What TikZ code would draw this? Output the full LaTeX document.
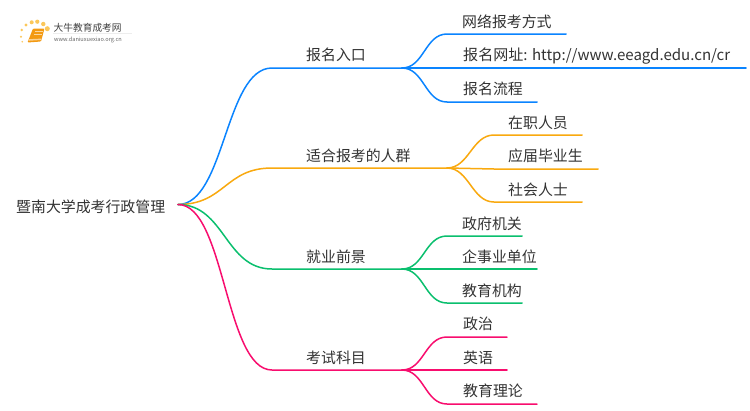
\documentclass[tikz,border=0pt]{standalone}
\usepackage{fontspec}
\setmainfont{Noto Sans CJK SC}
\definecolor{cblue}{HTML}{0A84FF}
\definecolor{corange}{HTML}{F9A90F}
\definecolor{cgreen}{HTML}{0ABF6E}
\definecolor{cpink}{HTML}{F80D6E}
\definecolor{ctext}{HTML}{333333}
\definecolor{cbook}{HTML}{F39A12}
\definecolor{cdot}{HTML}{FBC75A}
\tikzset{
 link/.style={line width=1.5pt,line cap=round},
 lab/.style={font=\fontsize{14.9}{15}\selectfont,text=ctext,anchor=base west,inner sep=0pt},
 urllab/.style={lab,font=\fontsize{15.05}{15}\selectfont},
}
\begin{document}
\begin{tikzpicture}[x=1pt,y=-1pt]
\useasboundingbox (0,0) rectangle (750,410);
\fill[white] (0,0) rectangle (750,410);
% logo
\foreach \x/\y/\s in {22.3/41.7/0.9,21/36.7/1.1,21.7/30/1.4,26/25/1.7,31.7/22.3/2,37.3/21.7/2.1,43.3/24/2.2,47.3/28.7/2.5}
  \fill[cdot] (\x,\y) circle (\s);
\fill[cbook,rounded corners=1pt] (33,28.5) -- (44.5,28.5) -- (41,41.5) -- (27.5,42.5) -- cycle;
\draw[white!60!cbook,line width=0.6pt] (35,31.5) -- (42.5,31.5) (34.3,34) -- (41.8,34);
\fill[white!55!cbook] (29,39.2) -- (41.4,38.6) -- (41,40) -- (28.5,40.8) -- cycle;
\node[font=\fontsize{9.7}{10}\selectfont,text=black!75,anchor=base west,inner sep=0pt] (logotext) at (53.5,31) {大牛教育成考网};
\node[font=\fontsize{5.6}{6}\selectfont,text=black!60,anchor=base west,inner sep=0pt] (logourl) at (54,41) {www.daniuxuexiao.org.cn};
\fill[black!7] (53,33.2) rectangle (132,33.7);
% root
\node[lab] (root) at (16,212) {暨南大学成考行政管理};
\coordinate (r) at (178,204.5);
% main branches
\coordinate (a0) at (272,68);  \coordinate (a1) at (402,68);
\coordinate (b0) at (272,168); \coordinate (b1) at (447,168);
\coordinate (c0) at (272,269); \coordinate (c1) at (402,269);
\coordinate (d0) at (272,370); \coordinate (d1) at (402,370);
\foreach \col/\p/\q in {cblue/a0/a1,corange/b0/b1,cgreen/c0/c1,cpink/d0/d1}{
 \draw[link,\col] (r) .. controls +(47,0) and +(-47,0) .. (\p) -- (\q);
}
\draw[link,cpink] (r) -- +(4,0);
% blue
\coordinate (a1e) at (566,34); \coordinate (a2e) at (746,68); \coordinate (a3e) at (537,102);
\draw[link,cblue] (a1) .. controls +(22,0) and +(-22,0) .. (447,34) -- (a1e);
\draw[link,cblue] (a1) -- (a2e);
\draw[link,cblue] (a1) .. controls +(22,0) and +(-22,0) .. (447,102) -- (a3e);
% orange
\coordinate (b1e) at (582,135); \coordinate (b2e) at (598,169); \coordinate (b3e) at (582,202);
\draw[link,corange] (b1) .. controls +(22,0) and +(-22,0) .. (494,135) -- (b1e);
\draw[link,corange] (b1) -- (494,169) -- (b2e);
\draw[link,corange] (b1) .. controls +(22,0) and +(-22,0) .. (494,202) -- (b3e);
% green
\coordinate (c1e) at (522,236); \coordinate (c2e) at (537,269); \coordinate (c3e) at (522,303);
\draw[link,cgreen] (c1) .. controls +(22,0) and +(-22,0) .. (447,236) -- (c1e);
\draw[link,cgreen] (c1) -- (c2e);
\draw[link,cgreen] (c1) .. controls +(22,0) and +(-22,0) .. (447,303) -- (c3e);
% pink
\coordinate (d1e) at (507,337); \coordinate (d2e) at (507,370); \coordinate (d3e) at (537,404);
\draw[link,cpink] (d1) .. controls +(22,0) and +(-22,0) .. (447,337) -- (d1e);
\draw[link,cpink] (d1) -- (d2e);
\draw[link,cpink] (d1) .. controls +(22,0) and +(-22,0) .. (447,404) -- (d3e);
% labels
\node[lab] (A) at (306,60.5) {报名入口};
\node[lab] (A1) at (462,27) {网络报考方式};
\node[urllab] (A2) at (463,60.5) {报名网址: http://www.eeagd.edu.cn/cr};
\node[lab] (A3) at (463,94) {报名流程};
\node[lab] (B) at (306,161) {适合报考的人群};
\node[lab] (B1) at (508,128) {在职人员};
\node[lab] (B2) at (508,161) {应届毕业生};
\node[lab] (B3) at (508,195) {社会人士};
\node[lab] (C) at (306,262) {就业前景};
\node[lab] (C1) at (462,229) {政府机关};
\node[lab] (C2) at (462,262) {企事业单位};
\node[lab] (C3) at (462,296) {教育机构};
\node[lab] (D) at (306,363) {考试科目};
\node[lab] (D1) at (463,329) {政治};
\node[lab] (D2) at (463,363) {英语};
\node[lab] (D3) at (463,396) {教育理论};
\end{tikzpicture}
\end{document}
